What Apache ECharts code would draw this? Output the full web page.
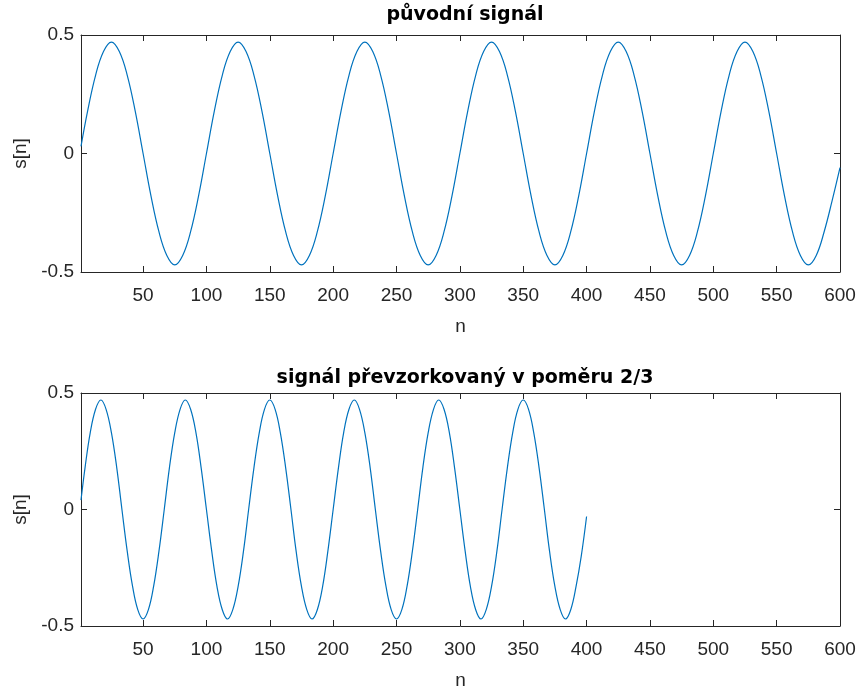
<!DOCTYPE html>
<html><head><meta charset="utf-8">
<script src="https://cdn.jsdelivr.net/npm/echarts@6/dist/echarts.min.js"></script>
<style>html,body{margin:0;padding:0;background:#fff}#c{width:861px;height:691px}</style>
</head><body><div id="c"></div>
<script>
// Titles and labels
const titles = ['původní signál', 'signál převzorkovaný v poměru 2/3'];
const xName = 'n';
const yName = 's[n]';
const xTicks = [50,100,150,200,250,300,350,400,450,500,550,600];

// Original signal
const topN = [1,
  6.25,12.5,18.75,25,31.25,37.5,43.75,50,56.25,62.5,68.75,75,81.25,87.5,93.75,100,
  106.25,112.5,118.75,125,131.25,137.5,143.75,150,156.25,162.5,168.75,175,181.25,187.5,193.75,200,
  206.25,212.5,218.75,225,231.25,237.5,243.75,250,256.25,262.5,268.75,275,281.25,287.5,293.75,300,
  306.25,312.5,318.75,325,331.25,337.5,343.75,350,356.25,362.5,368.75,375,381.25,387.5,393.75,400,
  406.25,412.5,418.75,425,431.25,437.5,443.75,450,456.25,462.5,468.75,475,481.25,487.5,493.75,500,
  506.25,512.5,518.75,525,531.25,537.5,543.75,550,556.25,562.5,568.75,575,581.25,587.5,593.75,600];
const topS = [0.03,
  0.18,0.33,0.43,0.47,0.43,0.33,0.18,0,-0.18,-0.33,-0.43,-0.47,-0.43,-0.33,-0.18,0,
  0.18,0.33,0.43,0.47,0.43,0.33,0.18,0,-0.18,-0.33,-0.43,-0.47,-0.43,-0.33,-0.18,0,
  0.18,0.33,0.43,0.47,0.43,0.33,0.18,0,-0.18,-0.33,-0.43,-0.47,-0.43,-0.33,-0.18,0,
  0.18,0.33,0.43,0.47,0.43,0.33,0.18,0,-0.18,-0.33,-0.43,-0.47,-0.43,-0.33,-0.18,0,
  0.18,0.33,0.43,0.47,0.43,0.33,0.18,0,-0.18,-0.33,-0.43,-0.47,-0.43,-0.33,-0.18,0,
  0.18,0.33,0.43,0.47,0.43,0.33,0.18,0,-0.18,-0.33,-0.43,-0.47,-0.43,-0.33,-0.2,-0.06];

// Resampled signal (ratio 2/3)
const botN = [1,
  4.2,8.3,12.5,16.7,20.8,25,29.2,33.3,37.5,41.7,45.8,50,54.2,58.3,62.5,66.7,
  70.8,75,79.2,83.3,87.5,91.7,95.8,100,104.2,108.3,112.5,116.7,120.8,125,129.2,133.3,
  137.5,141.7,145.8,150,154.2,158.3,162.5,166.7,170.8,175,179.2,183.3,187.5,191.7,195.8,200,
  204.2,208.3,212.5,216.7,220.8,225,229.2,233.3,237.5,241.7,245.8,250,254.2,258.3,262.5,266.7,
  270.8,275,279.2,283.3,287.5,291.7,295.8,300,304.2,308.3,312.5,316.7,320.8,325,329.2,333.3,
  337.5,341.7,345.8,350,354.2,358.3,362.5,366.7,370.8,375,379.2,383.3,387.5,391.7,395.8,400];
const botS = [0.04,
  0.18,0.33,0.43,0.47,0.43,0.33,0.18,0,-0.18,-0.33,-0.43,-0.47,-0.43,-0.33,-0.18,0,
  0.18,0.33,0.43,0.47,0.43,0.33,0.18,0,-0.18,-0.33,-0.43,-0.47,-0.43,-0.33,-0.18,0,
  0.18,0.33,0.43,0.47,0.43,0.33,0.18,0,-0.18,-0.33,-0.43,-0.47,-0.43,-0.33,-0.18,0,
  0.18,0.33,0.43,0.47,0.43,0.33,0.18,0,-0.18,-0.33,-0.43,-0.47,-0.43,-0.33,-0.18,0,
  0.18,0.33,0.43,0.47,0.43,0.33,0.18,0,-0.18,-0.33,-0.43,-0.47,-0.43,-0.33,-0.18,0,
  0.18,0.33,0.43,0.47,0.43,0.33,0.18,0,-0.18,-0.33,-0.43,-0.47,-0.43,-0.33,-0.2,-0.03];

const FONT = '"Liberation Sans", Arial, sans-serif';
const TFONT = '"DejaVu Sans", sans-serif';
const AX = '#262626';
const LINE = '#0072BD';
const FS = 19;

function pairs(n, s){ return n.map((v,i)=>[v, s[i]]); }

const grids = [
  {left:81, right:21, top:35, height:237},
  {left:81, right:21, top:393, height:236}
];

const xAxes = [], yAxes = [], series = [];
grids.forEach((g, gi) => {
  xAxes.push({
    type:'value', gridIndex:gi, min:1, max:600, position:'bottom',
    name:xName, nameLocation:'middle', nameGap:45,
    nameTextStyle:{color:AX, fontSize:FS, fontFamily:FONT},
    axisLine:{show:true, onZero:false, lineStyle:{color:AX, width:1}},
    axisTick:{show:true, inside:true, length:6, customValues:xTicks, lineStyle:{color:AX}},
    axisLabel:{show:true, customValues:xTicks, color:AX, fontSize:FS, fontFamily:FONT, margin:14},
    splitLine:{show:false}
  });
  xAxes.push({
    type:'value', gridIndex:gi, min:1, max:600, position:'top',
    axisLine:{show:true, onZero:false, lineStyle:{color:AX, width:1}},
    axisTick:{show:true, inside:true, length:6, customValues:xTicks, lineStyle:{color:AX}},
    axisLabel:{show:false},
    splitLine:{show:false}
  });
  yAxes.push({
    type:'value', gridIndex:gi, min:-0.5, max:0.5, interval:0.5, position:'left',
    name:yName, nameLocation:'middle', nameGap:49,
    nameTextStyle:{color:AX, fontSize:FS, fontFamily:FONT},
    axisLine:{show:true, onZero:false, lineStyle:{color:AX, width:1}},
    axisTick:{show:true, inside:true, length:6, lineStyle:{color:AX}},
    axisLabel:{show:true, color:AX, fontSize:FS, fontFamily:FONT, margin:7,
      formatter:v => v===0 ? '0' : String(v)},
    splitLine:{show:false}
  });
  yAxes.push({
    type:'value', gridIndex:gi, min:-0.5, max:0.5, interval:0.5, position:'right',
    axisLine:{show:true, onZero:false, lineStyle:{color:AX, width:1}},
    axisTick:{show:true, inside:true, length:6, lineStyle:{color:AX}},
    axisLabel:{show:false},
    splitLine:{show:false}
  });
});

series.push({type:'line', xAxisIndex:0, yAxisIndex:0, data:pairs(topN, topS), smooth:0.4,
  showSymbol:false, lineStyle:{color:LINE, width:1.2}, clip:true, animation:false});
series.push({type:'line', xAxisIndex:2, yAxisIndex:2, data:pairs(botN, botS), smooth:0.4,
  showSymbol:false, lineStyle:{color:LINE, width:1.2}, clip:true, animation:false});

const chart = echarts.init(document.getElementById('c'), null, {renderer:'canvas'});
chart.setOption({
  animation:false,
  backgroundColor:'#ffffff',
  title:[
    {text:titles[0], left:460, top:1, textAlign:'center',
     textStyle:{color:'#000', fontSize:19, fontWeight:'bold', fontFamily:TFONT}},
    {text:titles[1], left:460, top:364, textAlign:'center',
     textStyle:{color:'#000', fontSize:19, fontWeight:'bold', fontFamily:TFONT}}
  ],
  grid:grids,
  xAxis:xAxes,
  yAxis:yAxes,
  series:series
});
</script>
</body></html>
